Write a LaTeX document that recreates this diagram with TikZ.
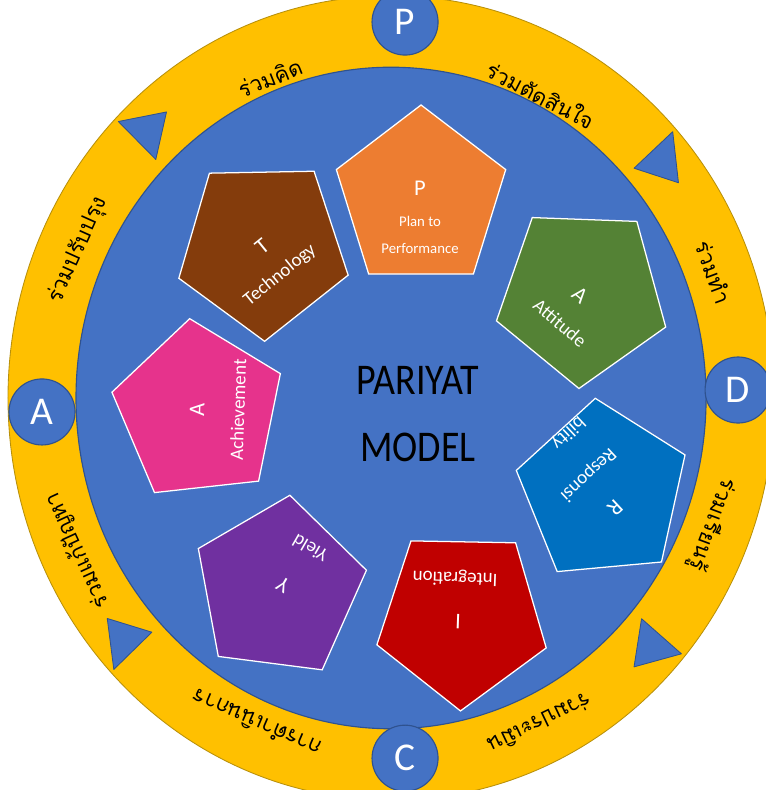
\documentclass[tikz,border=0pt]{standalone}
\usepackage{fontspec}
\setmainfont{Carlito}
\newfontfamily\thaifont[Script=Thai]{Loma}
\usetikzlibrary{shapes.geometric}
\definecolor{ringyellow}{HTML}{FFC000}
\definecolor{ringedge}{HTML}{B8900A}
\definecolor{discblue}{HTML}{4472C4}
\definecolor{discedge}{HTML}{2F528F}
\definecolor{porange}{HTML}{ED7D31}
\definecolor{tbrown}{HTML}{843C0C}
\definecolor{agreen}{HTML}{548235}
\definecolor{rblue}{HTML}{0070C0}
\definecolor{ired}{HTML}{C00000}
\definecolor{ypurple}{HTML}{7030A0}
\definecolor{apink}{HTML}{E6338C}
\tikzstyle{stage}=[circle,fill=discblue,draw=discedge,line width=0.8pt,minimum size=1.65cm,inner sep=0pt,text=white,font=\fontsize{28}{30}\selectfont]
\tikzstyle{pent}=[regular polygon,regular polygon sides=5,minimum size=4.45cm,draw=white,line width=0.9pt,inner sep=0pt,outer sep=0pt,transform shape]
\tikzstyle{ringtext}=[font=\thaifont\fontsize{15.5}{18}\selectfont,inner sep=0pt]
\tikzstyle{pentitle}=[text=white,font=\fontsize{16}{18}\selectfont,inner sep=0pt]
\tikzstyle{pentext}=[text=white,font=\fontsize{13.5}{15}\selectfont,inner sep=0pt]
\tikzstyle{modelname}=[font=\fontsize{27}{29}\selectfont,yscale=1.1,transform shape]
\tikzstyle{arrowtri}=[fill=discblue,draw=discedge,line width=0.6pt,line join=round]

\begin{document}
\begin{tikzpicture}[x=0.025cm,y=0.025cm,yscale=1.05]
    \useasboundingbox (-391,-373.3) rectangle (374,379);
    % the ring and the disc inside it
    \draw[fill=ringyellow,draw=ringedge,line width=0.6pt] (0,0) circle (383);
    \draw[fill=discblue,draw=discedge,line width=0.8pt] (0,0) circle (315);

    % arrow heads on the ring, pointing clockwise
    \foreach \ang in {136,42,-40,223}
        \path[arrowtri] (\ang:327) -- (\ang:379) -- (\ang-6.5:353) -- cycle;

    % the words written round the ring
    \foreach \pos/\rot/\txt [count=\i] in {{(-121,305)/21.7/{ร่วมคิด}}, {(150,289)/-27.5/{ร่วมตัดสินใจ}},
        {(323,120)/-69.6/{ร่วมทำ}}, {(321,-120)/-110.5/{ร่วมเรียนรู้}}, {(149,-310)/-154.4/{ร่วมประเมิน}},
        {(-134,-310)/156.7/{การดำเนินการ}}, {(-314,-145)/114.8/{ร่วมแก้ปัญหา}}, {(-313,141)/65.8/{ร่วมปรับปรุง}}}
        \node[ringtext,rotate=\rot] (word\i) at \pos {\txt};

    % P D C A
    \foreach \pos/\name/\label in {{(14,358)/stP/P}, {(347,7.6)/stD/D}, {(14,-343)/stC/C}, {(-349,-13.3)/stA/A}}
        \node[stage] (\name) at \pos {\label};

    % the seven pentagons
    \node[pent,fill=porange] (pP) at (30,190) {};
    \node[pent,fill=tbrown,shape border rotate=37] (pT) at (-128,143) {};
    \node[pent,fill=agreen,shape border rotate=34] (pA) at (191,98) {};
    \node[pent,fill=rblue,shape border rotate=5] (pR) at (212,-89) {};
    \node[pent,fill=ired,shape border rotate=35] (pI) at (71,-209) {};
    \node[pent,fill=ypurple,shape border rotate=-7] (pY) at (-112,-181) {};
    \node[pent,fill=apink,shape border rotate=6] (pAc) at (-192,-13) {};

    % letters and words on them
    \node[pentitle] (lP) at (29,200) {P};
    \node[pentext,font=\fontsize{10.5}{12}\selectfont] (wP1) at (29,168) {Plan to};
    \node[pentext,font=\fontsize{10.5}{12}\selectfont] (wP2) at (29,142.6) {Performance};
    \node[pentitle,rotate=39] (lT) at (-129,144) {T};
    \node[pentext,rotate=39] (wT) at (-111,117) {Technology};
    \node[pentitle,rotate=-40] (lA) at (189,98) {A};
    \node[pentext,rotate=-40] (wA) at (169,71.4) {Attitude};
    \node[pentitle,rotate=-137] (lR) at (224,-105) {R};
    \node[pentext,rotate=-137] (wR1) at (197,-73) {Responsi};
    \node[pentext,rotate=-137] (wR2) at (177,-33) {bility};
    \node[pentitle,rotate=178] (lI) at (67,-213) {I};
    \node[pentext,rotate=178] (wI) at (64,-171) {Integration};
    \node[pentitle,rotate=150] (lY) at (-108,-178) {Y};
    \node[pentext,rotate=150] (wY) at (-81,-143) {Yield};
    \node[pentitle,rotate=88] (lAc) at (-194,-11.4) {A};
    \node[pentext,rotate=88] (wAc) at (-153,-11.4) {Achievement};

    % model name in the middle
    \node[modelname] (nm1) at (27,17) {PARIYAT};
    \node[modelname] (nm2) at (27,-47) {MODEL};
\end{tikzpicture}
\end{document}
